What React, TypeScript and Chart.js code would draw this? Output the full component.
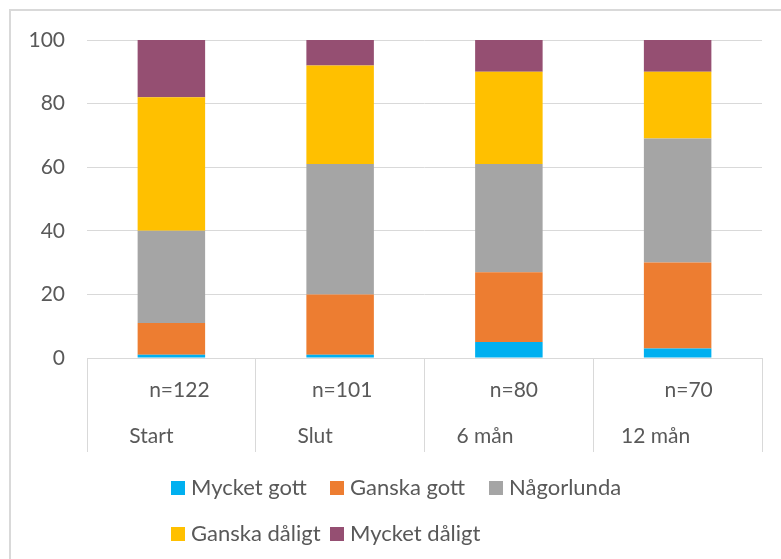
import React, { useEffect, useRef } from 'react';
import { Chart, registerables } from 'chart.js';

Chart.register(...registerables);

// ---- data ----
const categories = ['Start', 'Slut', '6 mån', '12 mån'];
const sampleSizes = ['n=122', 'n=101', 'n=80', 'n=70'];
const seriesNames = ['Mycket gott', 'Ganska gott', 'Någorlunda', 'Ganska dåligt', 'Mycket dåligt'];
const mycketGott = [1, 1, 5, 3];
const ganskaGott = [10, 19, 22, 27];
const nagorlunda = [29, 41, 34, 39];
const ganskaDaligt = [42, 31, 29, 21];
const mycketDaligt = [18, 8, 10, 10];
const yMin = 0;
const yMax = 100;
const yStep = 20;

// ---- styles / layout ----
const seriesColors = ['#00B0F0', '#ED7D31', '#A5A5A5', '#FFC000', '#954F72'];
const TEXT = '#595959';
const GRID = '#D9D9D9';
const FONT = 'Lato, "Open Sans", sans-serif';
const AXIS_SIZE = 21;
const LEGEND_SIZE = 22;
const nOffsets = [8, 2, 5, 11];
const catOffsets = [-20, -25, -24, -22];

const decorPlugin = {
  id: 'decor',
  afterDraw(chart: any) {
    const ctx = chart.ctx as CanvasRenderingContext2D;
    const xs = chart.scales.x;
    const bottom = chart.chartArea.bottom;
    ctx.save();
    // category labels
    ctx.fillStyle = TEXT;
    ctx.font = `${AXIS_SIZE}px ${FONT}`;
    ctx.textAlign = 'center';
    ctx.textBaseline = 'alphabetic';
    categories.forEach((c, i) => {
      const cx = xs.getPixelForValue(i);
      ctx.fillText(sampleSizes[i], cx + nOffsets[i], bottom + 39);
      ctx.fillText(c, cx + catOffsets[i], bottom + 85);
    });
    // legend
    ctx.font = `${LEGEND_SIZE}px ${FONT}`;
    ctx.textAlign = 'left';
    chart.data.datasets.forEach((ds: any, i: number) => {
      const col = i % 3;
      const row = Math.floor(i / 3);
      const lx = 171 + col * 159;
      const base = bottom + 137 + row * 46;
      ctx.fillStyle = ds.backgroundColor;
      ctx.fillRect(lx, base - 14, 14, 14);
      ctx.fillStyle = TEXT;
      ctx.fillText(ds.label, lx + 20, base);
    });
    // outer frame
    ctx.strokeStyle = GRID;
    ctx.lineWidth = 2;
    ctx.beginPath();
    ctx.moveTo(10, chart.height);
    ctx.lineTo(10, 10);
    ctx.lineTo(chart.width, 10);
    ctx.stroke();
    ctx.restore();
  },
};

export default function App() {
  const ref = useRef<HTMLCanvasElement | null>(null);

  useEffect(() => {
    document.body.style.margin = '0';
    let chart: Chart | null = null;
    let cancelled = false;
    const make = () => {
      if (cancelled || !ref.current) return;
      const seriesValues = [mycketGott, ganskaGott, nagorlunda, ganskaDaligt, mycketDaligt];
      chart = new Chart(ref.current, {
        type: 'bar',
        data: {
          labels: categories,
          datasets: seriesNames.map((name, i) => ({
            label: name,
            data: seriesValues[i],
            backgroundColor: seriesColors[i],
            borderWidth: 0,
            categoryPercentage: 0.4,
            barPercentage: 1,
          })),
        },
        options: {
          responsive: false,
          animation: false,
          devicePixelRatio: 1,
          layout: { padding: { left: 29, right: 19, top: 40, bottom: 107 } },
          plugins: {
            legend: { display: false },
            tooltip: { enabled: false },
          },
          scales: {
            x: {
              stacked: true,
              ticks: { display: false },
              grid: {
                drawOnChartArea: false,
                drawTicks: true,
                tickLength: 94,
                color: GRID,
                lineWidth: 1,
                offset: true,
              },
              border: { display: true, color: GRID, width: 1 },
            },
            y: {
              stacked: true,
              min: yMin,
              max: yMax,
              ticks: {
                stepSize: yStep,
                color: TEXT,
                font: { family: FONT, size: AXIS_SIZE },
                padding: 22,
              },
              grid: { color: GRID, lineWidth: 1, drawTicks: false },
              border: { display: false },
              afterFit: (axis: any) => {
                axis.width = 58;
              },
            } as any,
          },
        },
        plugins: [decorPlugin],
      });
    };
    const fontsApi: any = (document as any).fonts;
    if (fontsApi && fontsApi.load) {
      Promise.all([fontsApi.load(`${AXIS_SIZE}px Lato`), fontsApi.load(`${LEGEND_SIZE}px Lato`)])
        .then(make, make);
    } else {
      make();
    }
    return () => {
      cancelled = true;
      if (chart) chart.destroy();
    };
  }, []);

  return (
    <div style={{ width: 781, height: 559, background: '#fff' }}>
      <canvas ref={ref} width={781} height={559} style={{ display: 'block' }} />
    </div>
  );
}
